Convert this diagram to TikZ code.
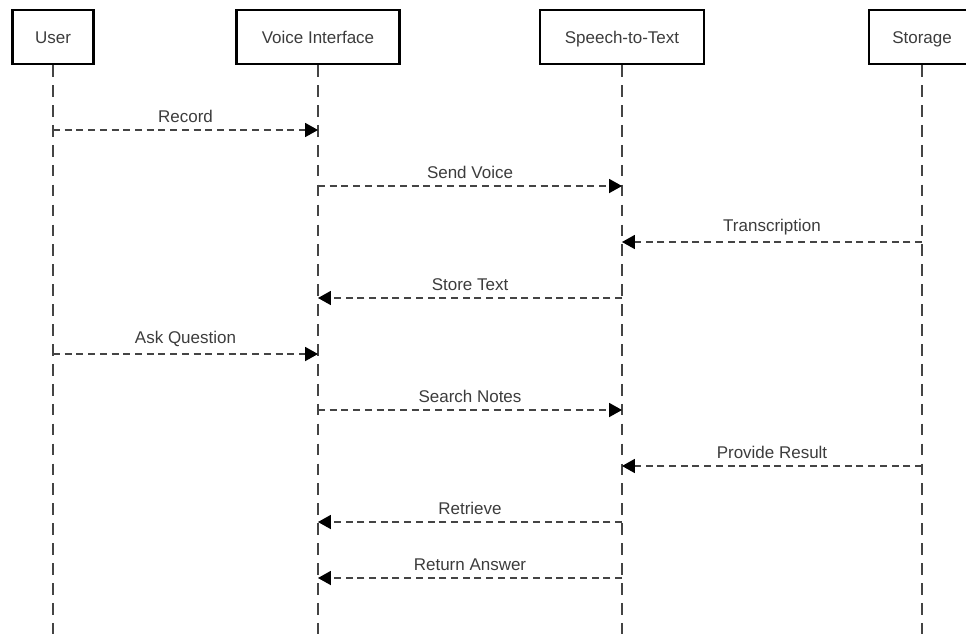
\documentclass[tikz,border=0pt]{standalone}
\usepackage{fontspec}
\setmainfont{Liberation Sans}
\usetikzlibrary{arrows.meta}

\definecolor{linegray}{HTML}{444444}
\definecolor{textgray}{HTML}{3C3C3C}

\tikzset{
  actor/.style={draw=black,line width=2pt,minimum height=1.62cm,inner sep=0pt,
    text height=2.2ex,text depth=0pt,
    font=\fontsize{14.5}{17}\selectfont,text=textgray},
  lifeline/.style={draw=linegray,line width=1.2pt,dash pattern=on 10pt off 7pt},
  msg/.style={draw=linegray,line width=1.2pt,dash pattern=on 6pt off 4pt,
    -{Triangle[length=11pt,width=12pt,fill=black,color=black]}},
  msglabel/.style={font=\fontsize{14.5}{17}\selectfont,text=textgray,above=2pt}
}

\begin{document}
\begin{tikzpicture}[x=0.03cm,y=-0.03cm]
  \useasboundingbox (0,0) rectangle (966,634);
  % actors
  \node[actor,minimum width=2.43cm] (user) at (53,37) {User};
  \node[actor,minimum width=4.89cm] (voice) at (318,37) {Voice Interface};
  \node[actor,minimum width=4.92cm] (stt) at (622,37) {Speech-to-Text};
  \node[actor,minimum width=3.18cm] (store) at (922,37) {Storage};
  % lifelines
  \foreach \n in {user,voice,stt,store} {
    \coordinate (\n-end) at (\n.south |- 0,634);
    \draw[lifeline] (\n.south) -- (\n-end);
  }
  % points on the lifelines, one row per message
  \foreach \i in {1,...,9} {
    \foreach \n in {user,voice,stt,store}
      \coordinate (\n-\i) at (\n.south |- 0,{74+56*\i});
  }
  % messages
  \foreach \a/\b/\i/\txt in {user/voice/1/Record, voice/stt/2/Send Voice,
      store/stt/3/Transcription, stt/voice/4/Store Text,
      user/voice/5/Ask Question, voice/stt/6/Search Notes,
      store/stt/7/Provide Result, stt/voice/8/Retrieve,
      stt/voice/9/Return Answer} {
    \draw[msg] (\a-\i) -- node[msglabel] (lab-\i) {\txt} (\b-\i);
  }
\end{tikzpicture}
\end{document}
